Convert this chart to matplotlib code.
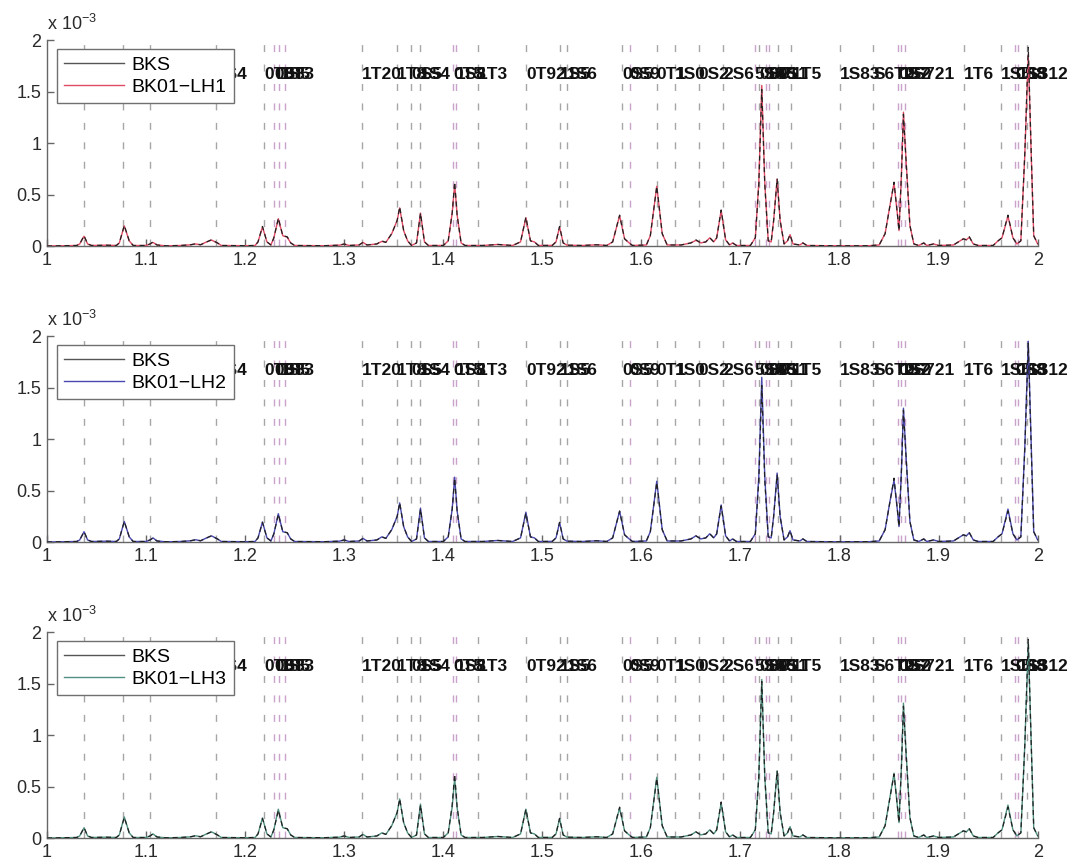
import matplotlib
matplotlib.use("Agg")
import matplotlib.pyplot as plt
from matplotlib.lines import Line2D

plt.rcParams.update({
    "font.family": ["Liberation Sans", "DejaVu Sans"],
    "mathtext.fontset": "custom",
    "mathtext.rm": "Liberation Sans",
    "axes.unicode_minus": True,
})

# --- data (intensity in units of 1e-3) ---
x_pts = [
    1.000, 1.030, 1.033, 1.0374, 1.041, 1.045, 1.060, 1.070, 1.073, 1.078,
    1.083, 1.087, 1.100, 1.104, 1.107, 1.111, 1.120, 1.135, 1.145, 1.150,
    1.155, 1.160, 1.166, 1.172, 1.176, 1.200, 1.210, 1.213, 1.2175, 1.222,
    1.226, 1.229, 1.2335, 1.238, 1.2425, 1.246, 1.250, 1.280, 1.295, 1.300,
    1.305, 1.315, 1.319, 1.323, 1.333, 1.338, 1.342, 1.348, 1.3535, 1.356,
    1.360, 1.364, 1.368, 1.373, 1.377, 1.381, 1.385, 1.400, 1.405, 1.409,
    1.4115, 1.414, 1.418, 1.422, 1.440, 1.455, 1.470, 1.478, 1.4834, 1.488,
    1.492, 1.496, 1.510, 1.5138, 1.5174, 1.521, 1.525, 1.540, 1.555, 1.565,
    1.571, 1.578, 1.583, 1.587, 1.591, 1.605, 1.609, 1.6155, 1.621, 1.626,
    1.640, 1.650, 1.655, 1.660, 1.665, 1.669, 1.673, 1.676, 1.6805, 1.685,
    1.689, 1.692, 1.696, 1.710, 1.715, 1.7185, 1.7215, 1.7245, 1.728, 1.731,
    1.7335, 1.737, 1.740, 1.744, 1.7475, 1.750, 1.753, 1.760, 1.763, 1.767,
    1.800, 1.830, 1.840, 1.846, 1.851, 1.855, 1.8585, 1.860, 1.8625, 1.8645,
    1.867, 1.871, 1.875, 1.880, 1.885, 1.888, 1.895, 1.900, 1.915, 1.920,
    1.925, 1.928, 1.931, 1.935, 1.940, 1.955, 1.960, 1.964, 1.970, 1.975,
    1.979, 1.983, 1.987, 1.9905, 1.9935, 1.996, 1.998, 2.000,
]

bks = [
    0.000, 0.005, 0.020, 0.100, 0.020, 0.005, 0.008, 0.005, 0.030, 0.200,
    0.050, 0.005, 0.005, 0.020, 0.040, 0.010, 0.002, 0.005, 0.012, 0.022,
    0.012, 0.035, 0.060, 0.030, 0.005, 0.003, 0.005, 0.040, 0.190, 0.040,
    0.010, 0.080, 0.270, 0.100, 0.090, 0.030, 0.005, 0.003, 0.008, 0.020,
    0.005, 0.010, 0.035, 0.010, 0.020, 0.050, 0.035, 0.120, 0.250, 0.380,
    0.150, 0.050, 0.005, 0.030, 0.320, 0.040, 0.005, 0.005, 0.050, 0.320,
    0.620, 0.300, 0.030, 0.005, 0.005, 0.015, 0.005, 0.040, 0.280, 0.050,
    0.040, 0.005, 0.006, 0.040, 0.190, 0.030, 0.008, 0.005, 0.012, 0.005,
    0.040, 0.300, 0.070, 0.035, 0.005, 0.010, 0.100, 0.580, 0.120, 0.010,
    0.010, 0.030, 0.060, 0.030, 0.040, 0.080, 0.040, 0.080, 0.350, 0.060,
    0.010, 0.030, 0.005, 0.005, 0.080, 0.600, 1.520, 0.600, 0.050, 0.040,
    0.250, 0.650, 0.250, 0.020, 0.050, 0.110, 0.020, 0.010, 0.030, 0.005,
    0.002, 0.003, 0.010, 0.120, 0.400, 0.620, 0.300, 0.150, 0.700, 1.280,
    0.850, 0.200, 0.020, 0.005, 0.030, 0.005, 0.020, 0.005, 0.010, 0.040,
    0.070, 0.060, 0.090, 0.020, 0.005, 0.005, 0.050, 0.080, 0.300, 0.080,
    0.020, 0.050, 0.900, 1.930, 0.900, 0.100, 0.060, 0.020,
]

lh1 = [
    0.000, 0.005, 0.020, 0.095, 0.020, 0.005, 0.008, 0.005, 0.030, 0.195,
    0.050, 0.005, 0.005, 0.020, 0.035, 0.010, 0.002, 0.005, 0.012, 0.020,
    0.012, 0.035, 0.058, 0.030, 0.005, 0.003, 0.005, 0.040, 0.185, 0.040,
    0.010, 0.080, 0.265, 0.100, 0.085, 0.030, 0.005, 0.003, 0.008, 0.018,
    0.005, 0.010, 0.035, 0.010, 0.020, 0.045, 0.035, 0.120, 0.250, 0.370,
    0.150, 0.050, 0.005, 0.030, 0.320, 0.040, 0.005, 0.005, 0.050, 0.320,
    0.600, 0.300, 0.030, 0.005, 0.005, 0.015, 0.005, 0.040, 0.275, 0.050,
    0.040, 0.005, 0.006, 0.040, 0.185, 0.030, 0.008, 0.005, 0.012, 0.005,
    0.040, 0.295, 0.070, 0.035, 0.005, 0.010, 0.100, 0.580, 0.120, 0.010,
    0.010, 0.030, 0.055, 0.030, 0.040, 0.080, 0.040, 0.080, 0.345, 0.060,
    0.010, 0.030, 0.005, 0.005, 0.080, 0.620, 1.560, 0.620, 0.050, 0.040,
    0.250, 0.650, 0.250, 0.020, 0.050, 0.110, 0.020, 0.010, 0.030, 0.005,
    0.002, 0.003, 0.010, 0.120, 0.400, 0.610, 0.300, 0.150, 0.700, 1.300,
    0.860, 0.200, 0.020, 0.005, 0.030, 0.005, 0.020, 0.005, 0.010, 0.040,
    0.070, 0.060, 0.085, 0.020, 0.005, 0.005, 0.050, 0.080, 0.290, 0.080,
    0.020, 0.050, 0.880, 1.860, 0.880, 0.100, 0.060, 0.020,
]

lh2 = [
    0.000, 0.005, 0.020, 0.100, 0.020, 0.005, 0.008, 0.005, 0.030, 0.200,
    0.050, 0.005, 0.005, 0.020, 0.040, 0.010, 0.002, 0.005, 0.012, 0.022,
    0.012, 0.035, 0.060, 0.030, 0.005, 0.003, 0.005, 0.040, 0.195, 0.040,
    0.010, 0.080, 0.275, 0.100, 0.090, 0.030, 0.005, 0.003, 0.008, 0.020,
    0.005, 0.010, 0.035, 0.010, 0.020, 0.050, 0.035, 0.120, 0.250, 0.380,
    0.150, 0.050, 0.005, 0.030, 0.330, 0.040, 0.005, 0.005, 0.050, 0.320,
    0.630, 0.300, 0.030, 0.005, 0.005, 0.015, 0.005, 0.040, 0.290, 0.050,
    0.040, 0.005, 0.006, 0.040, 0.190, 0.030, 0.008, 0.005, 0.012, 0.005,
    0.040, 0.300, 0.070, 0.035, 0.005, 0.010, 0.100, 0.590, 0.120, 0.010,
    0.010, 0.030, 0.060, 0.030, 0.040, 0.080, 0.040, 0.080, 0.360, 0.060,
    0.010, 0.030, 0.005, 0.005, 0.080, 0.640, 1.600, 0.640, 0.050, 0.040,
    0.250, 0.670, 0.250, 0.020, 0.050, 0.110, 0.020, 0.010, 0.030, 0.005,
    0.002, 0.003, 0.010, 0.120, 0.400, 0.600, 0.300, 0.150, 0.700, 1.300,
    0.860, 0.200, 0.020, 0.005, 0.030, 0.005, 0.020, 0.005, 0.010, 0.040,
    0.070, 0.060, 0.090, 0.020, 0.005, 0.005, 0.050, 0.080, 0.320, 0.080,
    0.020, 0.050, 0.920, 1.950, 0.920, 0.100, 0.060, 0.020,
]

lh3 = [
    0.000, 0.005, 0.020, 0.100, 0.020, 0.005, 0.008, 0.005, 0.030, 0.205,
    0.050, 0.005, 0.005, 0.020, 0.040, 0.010, 0.002, 0.005, 0.012, 0.022,
    0.012, 0.035, 0.060, 0.030, 0.005, 0.003, 0.005, 0.040, 0.195, 0.040,
    0.010, 0.080, 0.280, 0.100, 0.090, 0.030, 0.005, 0.003, 0.008, 0.020,
    0.005, 0.010, 0.035, 0.010, 0.020, 0.050, 0.035, 0.120, 0.250, 0.380,
    0.150, 0.050, 0.005, 0.030, 0.330, 0.040, 0.005, 0.005, 0.050, 0.300,
    0.580, 0.290, 0.030, 0.005, 0.005, 0.015, 0.005, 0.040, 0.280, 0.050,
    0.040, 0.005, 0.006, 0.040, 0.190, 0.030, 0.008, 0.005, 0.012, 0.005,
    0.040, 0.290, 0.070, 0.035, 0.005, 0.010, 0.100, 0.590, 0.120, 0.010,
    0.010, 0.030, 0.060, 0.030, 0.040, 0.080, 0.040, 0.080, 0.340, 0.060,
    0.010, 0.030, 0.005, 0.005, 0.080, 0.600, 1.540, 0.600, 0.050, 0.040,
    0.250, 0.650, 0.250, 0.020, 0.050, 0.110, 0.020, 0.010, 0.030, 0.005,
    0.002, 0.003, 0.010, 0.120, 0.400, 0.630, 0.300, 0.150, 0.700, 1.310,
    0.860, 0.200, 0.020, 0.005, 0.030, 0.005, 0.020, 0.005, 0.010, 0.040,
    0.070, 0.060, 0.090, 0.020, 0.005, 0.005, 0.050, 0.080, 0.320, 0.080,
    0.020, 0.050, 0.900, 1.900, 0.900, 0.100, 0.060, 0.020,
]

# marker lines and their labels
line_x = [
    1.0374, 1.0772, 1.1042, 1.1709, 1.2190, 1.2294, 1.2346, 1.2398,
    1.3176, 1.3536, 1.3678, 1.3765, 1.4100, 1.4128, 1.4353, 1.4834,
    1.5174, 1.5250, 1.5804, 1.5880, 1.6155, 1.6337, 1.6578, 1.6826,
    1.7143, 1.7188, 1.7256, 1.7284, 1.7377, 1.7515, 1.8003, 1.8341,
    1.8592, 1.8623, 1.8657, 1.9260, 1.9632, 1.9770, 1.9804, 1.9897,
]
line_kind = [
    0, 0, 0, 0, 0, 1, 1, 1,
    0, 0, 0, 0, 1, 1, 0, 0,
    0, 0, 0, 1, 0, 0, 0, 0,
    1, 0, 1, 1, 0, 0, 0, 0,
    1, 1, 1, 0, 0, 1, 1, 0,
]
line_labels = [
    "1S21", "0T13", "1S62", "0S4", "0T5", "0S8", "1S5", "0T3",
    "1T20", "1T8", "0S5", "1S4", "0T5", "1S8", "1T3", "0T92",
    "1S5", "1S6", "0S5", "0S9", "0T1", "1S0", "0S2", "2S6",
    "5S4", "0S9", "1S5", "0T1", "0S1", "1T5", "1S83", "S6T2",
    "0S7", "1S2", "0S721", "1T6", "1S5", "0S8", "1S3", "1S12",
]

x_ticks = [1, 1.1, 1.2, 1.3, 1.4, 1.5, 1.6, 1.7, 1.8, 1.9, 2]
x_ticklabels = ["1", "1.1", "1.2", "1.3", "1.4", "1.5", "1.6", "1.7", "1.8", "1.9", "2"]
y_ticks = [0, 0.5, 1, 1.5, 2]
y_ticklabels = ["0", "0.5", "1", "1.5", "2"]

samples = [("BK01\u2212LH1", lh1, "#e04a64"),
           ("BK01\u2212LH2", lh2, "#4848b0"),
           ("BK01\u2212LH3", lh3, "#4f9080")]

line_cols = ["#a6a6a6", "#c9a3c9"]
axis_col = "#666666"

fig = plt.figure(figsize=(10.78, 8.65), dpi=100)
bottoms = [0.7156, 0.3734, 0.0312]

for (name, lh, col), b in zip(samples, bottoms):
    ax = fig.add_axes([0.0436, b, 0.919, 0.238])

    for lx, k in zip(line_x, line_kind):
        ax.axvline(lx, color=line_cols[k], lw=1.0, ls=(0, (5, 9)), zorder=1)
    for lx, lab in zip(line_x, line_labels):
        ax.text(lx, 1.62, lab, fontsize=12.5, fontweight="bold", color="#111111",
                ha="left", va="baseline", zorder=2)

    ax.plot(x_pts, lh, color=col, lw=1.0, zorder=3)
    ax.plot(x_pts, bks, color="#222222", lw=0.9, ls=(0, (4, 3)), zorder=4)

    ax.set_xlim(1, 2)
    ax.set_ylim(0, 2)
    ax.set_xticks(x_ticks)
    ax.set_xticklabels(x_ticklabels)
    ax.set_yticks(y_ticks)
    ax.set_yticklabels(y_ticklabels)
    ax.tick_params(direction="in", length=5, width=1, colors=axis_col,
                   labelcolor="#2a2a2a", labelsize=13, pad=4)
    for s in ("top", "right"):
        ax.spines[s].set_visible(False)
    for s in ("left", "bottom"):
        ax.spines[s].set_color(axis_col)
        ax.spines[s].set_linewidth(1.0)

    ax.text(0.0, 1.03, r"x 10$^{-3}$", transform=ax.transAxes, fontsize=13,
            color="#2a2a2a", ha="left", va="bottom")

    # legend samples drawn as plain solid strokes, as in the reference
    handles = [Line2D([], [], color="#555555", lw=1.0),
               Line2D([], [], color=col, lw=1.0)]
    leg = ax.legend(handles, ["BKS", name], loc="upper left",
                    bbox_to_anchor=(0.01, 0.956), borderaxespad=0, fontsize=14,
                    handlelength=3.1, handletextpad=0.4, labelspacing=0.25,
                    borderpad=0.35, fancybox=False, framealpha=1, edgecolor="#707070")
    leg.get_frame().set_linewidth(1.0)
    leg.set_zorder(10)

fig.savefig("out.png", dpi=100)
